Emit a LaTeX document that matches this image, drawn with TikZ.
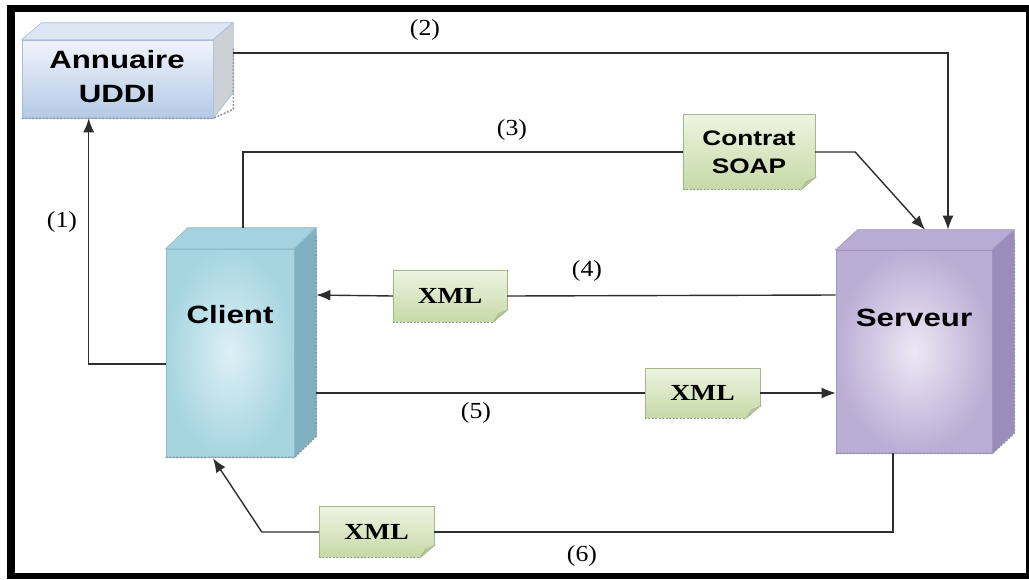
\documentclass[tikz,border=0pt]{standalone}
\usepackage{fontspec}
\usetikzlibrary{arrows.meta,calc,backgrounds}
\newfontfamily\boxsans[FakeStretch=1.25]{Liberation Sans}
\newfontfamily\lblserif[FakeStretch=1.12]{Liberation Serif}
\newfontfamily\xmlserif[FakeStretch=1.2]{Liberation Serif}
\definecolor{linegray}{HTML}{2E2E2E}
\definecolor{uddiT}{HTML}{F0F4FA}
\definecolor{uddiB}{HTML}{B4C9E6}
\definecolor{uddiTop}{HTML}{DDE7F3}
\definecolor{uddiSide}{HTML}{CDD0D6}
\definecolor{uddiEdge}{HTML}{A8BCD6}
\definecolor{cliIn}{HTML}{DDF0F5}
\definecolor{cliOut}{HTML}{A6D5E0}
\definecolor{cliTop}{HTML}{A4D2DE}
\definecolor{cliSide}{HTML}{80B1C1}
\definecolor{cliEdge}{HTML}{8CBCCB}
\definecolor{srvIn}{HTML}{ECE8F4}
\definecolor{srvOut}{HTML}{BAAED5}
\definecolor{srvTop}{HTML}{B7ACD3}
\definecolor{srvSide}{HTML}{9A8DBB}
\definecolor{srvEdge}{HTML}{A196C2}
\definecolor{noteT}{HTML}{EEF4E2}
\definecolor{noteB}{HTML}{C6D9A6}
\definecolor{noteEdge}{HTML}{A7B58C}
\definecolor{noteFold}{HTML}{B9C89C}
\definecolor{shadowgray}{HTML}{8F98A3}
\begin{document}
\begin{tikzpicture}[x=1pt,y=-1pt,
  conn/.style={draw=linegray, line width=1.4pt},
  arr/.style={conn, -{Latex[length=14pt,width=11pt]}},
  front/.style={inner sep=0pt, line width=0.6pt},
  boxtext/.style={font=\boxsans\bfseries\fontsize{25}{34}\selectfont, align=center},
  notebox/.style={inner sep=0pt},
  soaptext/.style={font=\boxsans\bfseries\fontsize{21}{28}\selectfont, align=center},
  xmltext/.style={font=\xmlserif\bfseries\fontsize{23}{26}\selectfont},
  numlbl/.style={font=\lblserif\fontsize{23}{26}\selectfont},
  shadowdash/.style={draw=shadowgray, line width=1.6pt, dash pattern=on 2pt off 1.5pt},
  noteedge/.style={draw=noteEdge, line width=0.6pt},
]
\useasboundingbox (0,0) rectangle (1029,579);
\begin{pgfonlayer}{background}
\fill[black] (7,5) rectangle (1029,579);
\fill[white] (15,12) rectangle (1026,573);
\end{pgfonlayer}

% ---------- Annuaire UDDI ----------
\node[front, minimum width=191pt, minimum height=78pt, top color=uddiT, bottom color=uddiB, draw=uddiEdge] (uddi) at (117.5,79) {};
\filldraw[fill=uddiTop, draw=uddiEdge, line width=0.6pt] (uddi.north west) -- ++(20,-17) -- ++(191,0) -- (uddi.north east) -- cycle;
\filldraw[fill=uddiSide, draw=uddiEdge, line width=0.6pt] (uddi.north east) -- ++(20,-17) -- ++(0,70) -- (uddi.south east) -- cycle;
\draw[shadowdash] (uddi.south west) -- (uddi.south east) -- ++(20,-9) -- ++(0,-61);
\node[boxtext] (uddit) at (117,77) {Annuaire\\UDDI};

% ---------- Client ----------
\node[front, minimum width=128pt, minimum height=208pt, shading=radial, inner color=cliIn, outer color=cliOut, draw=cliEdge] (client) at (230,353) {};
\filldraw[fill=cliTop, draw=cliEdge, line width=0.6pt] (client.north west) -- ++(22,-21) -- ++(128,0) -- (client.north east) -- cycle;
\filldraw[fill=cliSide, draw=cliEdge, line width=0.6pt] (client.north east) -- ++(22,-21) -- ++(0,208) -- (client.south east) -- cycle;
\draw[shadowdash] (client.south west) -- (client.south east) -- ++(22,-21) -- ++(0,-200);
\node[boxtext] (clientt) at (230,315) {Client};

% ---------- Serveur ----------
\node[front, minimum width=156pt, minimum height=203pt, shading=radial, inner color=srvIn, outer color=srvOut, draw=srvEdge] (serveur) at (914,351.5) {};
\filldraw[fill=srvTop, draw=srvEdge, line width=0.6pt] (serveur.north west) -- ++(22,-20) -- ++(156,0) -- (serveur.north east) -- cycle;
\filldraw[fill=srvSide, draw=srvEdge, line width=0.6pt] (serveur.north east) -- ++(22,-20) -- ++(0,203) -- (serveur.south east) -- cycle;
\draw[shadowdash] (serveur.south west) -- (serveur.south east) -- ++(22,-20) -- ++(0,-195);
\node[boxtext] (serveurt) at (914,318) {Serveur};

% ---------- Notes ----------
\node[notebox, soaptext, minimum width=132pt, minimum height=75pt] (soap) at (749,152) {Contrat\\SOAP};
\node[notebox, xmltext, minimum width=114pt, minimum height=52pt] (xmla) at (450,296) {XML};
\node[notebox, xmltext, minimum width=115pt, minimum height=50pt] (xmlb) at (702.5,393) {XML};
\node[notebox, xmltext, minimum width=115pt, minimum height=51pt] (xmlc) at (376.5,532) {XML};

\begin{pgfonlayer}{background}
\foreach \n in {soap,xmla,xmlb,xmlc}{
  \path[top color=noteT, bottom color=noteB] (\n.north west) -- (\n.north east) -- ($(\n.south east)+(0,-12)$) -- ($(\n.south east)+(-14,0)$) -- (\n.south west) -- cycle;
  \draw[noteedge] (\n.south west) -- (\n.north west) -- (\n.north east) -- ($(\n.south east)+(0,-12)$);
  \draw[draw=noteEdge, line width=1.2pt, dash pattern=on 2pt off 1.5pt] ($(\n.north east)+(0,3)$) -- ($(\n.south east)+(0,-12)$);
  \draw[draw=shadowgray, line width=1.4pt, dash pattern=on 2pt off 1.5pt] (\n.south west) -- ($(\n.south east)+(-14,0)$);
  \filldraw[fill=noteFold, draw=noteEdge, line width=0.6pt] ($(\n.south east)+(0,-12)$) -- ($(\n.south east)+(-14,0)$) -- ($(\n.south east)+(-9,-8)$) -- cycle;
}
\end{pgfonlayer}

% ---------- Connectors ----------
% (1)
\draw[arr] ($(client.west)+(0,11)$) -| ($(uddi.south west)+(67,0)$);
% (2)
\draw[arr] ($(uddi.east)+(20,-26)$) -| ($(serveur.north)+(34,-20)$);
% (3)
\draw[conn] ($(client.north)+(13,-21)$) |- (soap.west);
\coordinate (bend3) at ($(soap.east)+(40,0)$);
\draw[arr] (soap.east) -- (bend3) -- ($(serveur.north)+(11,-20)$);
% (4)
\draw[conn] ($(serveur.west)+(0,-56.5)$) -- (xmla.east);
\draw[arr] (xmla.west) -- ($(client.east)+(22,-58)$);
% (5)
\draw[conn] ($(client.east)+(22,40)$) -- (xmlb.west);
\draw[arr] (xmlb.east) -- ($(serveur.west)+(0,41.5)$);
% (6)
\draw[conn] ($(serveur.south)+(-21,0)$) |- (xmlc.east);
\coordinate (bend6) at ($(xmlc.west)+(-57,0)$);
\draw[arr] (xmlc.west) -- (bend6) -- ($(client.south)+(-17,1)$);

% ---------- Labels ----------
\node[numlbl] (l1) at (62,222) {(1)};
\node[numlbl] (l2) at (425,30) {(2)};
\node[numlbl] (l3) at (512,130) {(3)};
\node[numlbl] (l4) at (587,271) {(4)};
\node[numlbl] (l5) at (476,413) {(5)};
\node[numlbl] (l6) at (582,556) {(6)};
\end{tikzpicture}
\end{document}
